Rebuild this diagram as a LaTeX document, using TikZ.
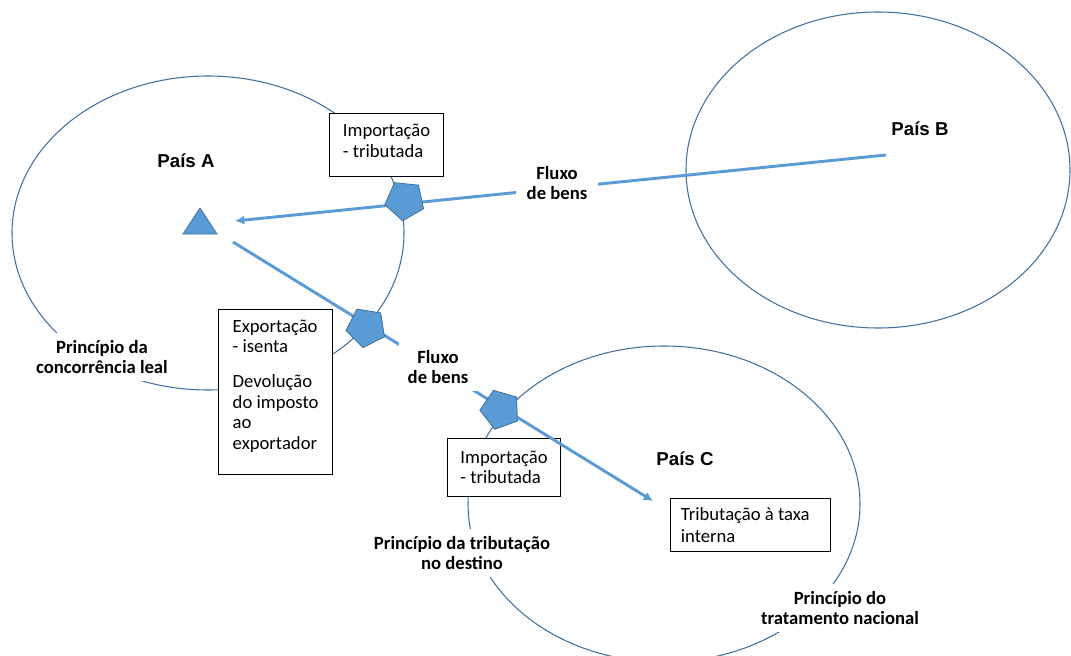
\documentclass[tikz,border=0pt]{standalone}
\usepackage{fontspec}
\setmainfont{Carlito}
\newfontfamily\arialfont{Liberation Sans}
\usetikzlibrary{shapes.geometric,arrows.meta}
\definecolor{rim}{HTML}{41719C}
\definecolor{flowblue}{HTML}{5B9BD5}
\begin{document}
\begin{tikzpicture}[x=0.75pt,y=-0.75pt,
  country/.style={draw=rim,line width=0.8pt},
  flow/.style={draw=flowblue,line width=2.2pt,-{Latex[length=7pt,width=7pt]}},
  taxbox/.style={draw=black,line width=0.9pt,fill=white,align=left,anchor=north west,
    font=\fontsize{14}{15.3}\selectfont,inner xsep=0pt},
  principle/.style={fill=white,align=center,inner xsep=6.5pt,inner ysep=5pt,
    font=\fontsize{14}{15.6}\selectfont\bfseries},
  countryname/.style={font=\arialfont\bfseries\fontsize{14}{16}\selectfont},
  station/.style={regular polygon,regular polygon sides=5,shape border rotate=180,
    fill=flowblue,draw=rim,line width=0.6pt,minimum size=30.75pt,inner sep=0pt}
]
\useasboundingbox (0,0) rectangle (1071,656);

% the three countries
\draw[country] (208,233) ellipse (196 and 157);
\draw[country] (878,170) ellipse (192 and 158);
\draw[country] (664,504) ellipse (196 and 158);

% tax treatment boxes (lines broken by hand, text block centred in the frame)
\node[taxbox,minimum width=85.5pt,minimum height=47.25pt] (impA) at (329,113)
  {Importação\\- tributada\rule[-6.5pt]{0pt}{1pt}};
\node[taxbox,minimum width=85.5pt,minimum height=123.75pt] (expA) at (218,309)
  {Exportação\\- isenta\\[11pt]Devolução\\do imposto\\ao\\exportador\rule[-11.5pt]{0pt}{1pt}};
\node[taxbox,minimum width=84.75pt,minimum height=43.5pt] (impC) at (447,438)
  {Importação\\- tributada};
\node[taxbox,minimum width=120pt,minimum height=39.75pt,
  font=\fontsize{14}{16.5}\selectfont] (trib) at (670,498)
  {Tributação à taxa\hspace*{8pt}\\interna};

% flows of goods
\coordinate (srcB) at (886,155);
\coordinate (tipA) at (235,221);
\coordinate (srcA) at (233,242);
\coordinate (tipC) at (653,501);
\draw[flow] (srcB) -- (tipA);
\draw[flow] (srcA) -- (tipC);

\node[principle,inner xsep=8pt] (fluxBA) at (557,183) {Fluxo\\de bens};
\node[principle] (fluxAC) at (438,367) {Fluxo\\de bens};

% principles
\node[principle] (leal) at (102,357) {Princípio da\\concorrência leal};
\node[principle] (destino) at (462,553) {Princípio da tributação\\no destino};
\node[principle] (nacional) at (840,608) {Princípio do\\tratamento nacional};

% border crossings
\node[station,rotate=-6] (bA1) at (404.8,200.4) {};
\node[station,rotate=-9] (bA2) at (366.2,327.4) {};
\node[station,rotate=-16] (bC) at (500.4,409.6) {};

% consumer in country A
\filldraw[fill=flowblue,draw=rim,line width=0.6pt] (200,208) -- (217,234) -- (183,234) -- cycle;

% country names
\node[countryname] (nameA) at (186,161) {País A};
\node[countryname] (nameB) at (920,129) {País B};
\node[countryname] (nameC) at (685,459) {País C};
\end{tikzpicture}
\end{document}
